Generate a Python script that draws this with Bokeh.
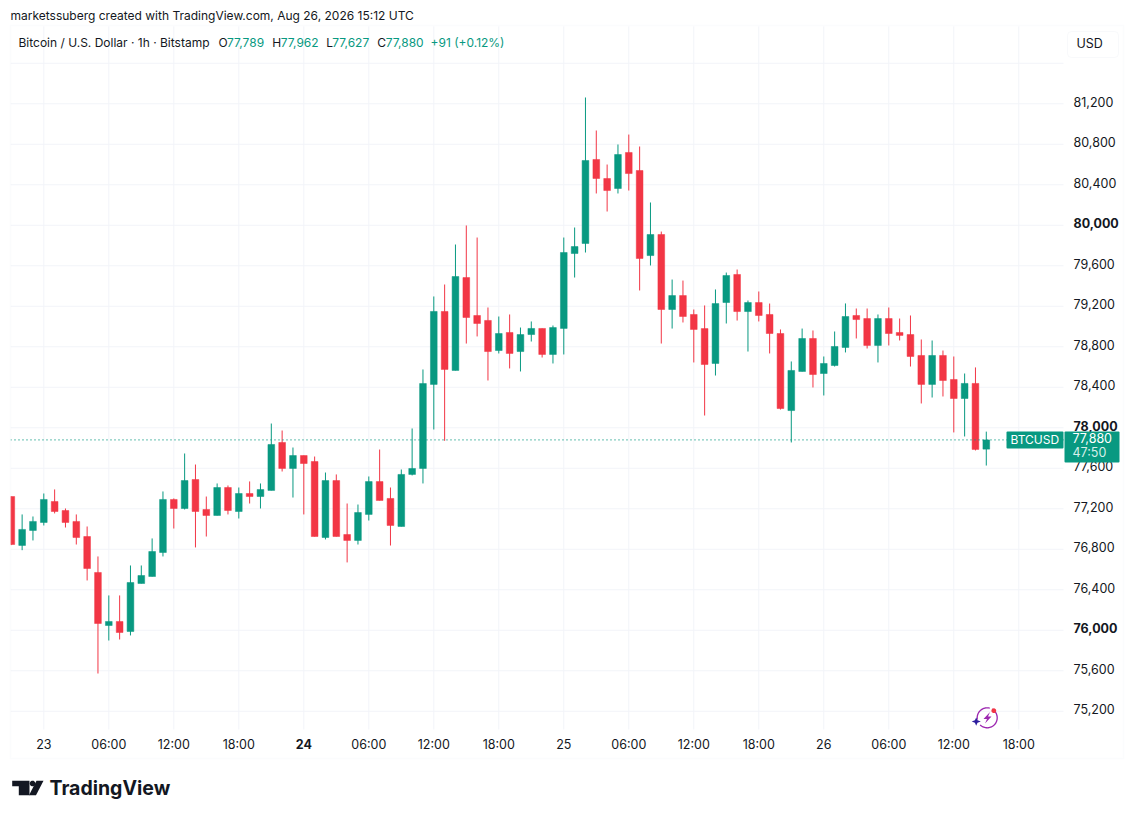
import numpy as np
from bokeh.plotting import figure
from bokeh.models import (BoxAnnotation, ColumnDataSource, FixedTicker, Label, LinearAxis, PolyAnnotation, Range1d)
from bokeh.embed import file_html
from bokeh.resources import INLINE

GREEN = "#089981"
RED = "#F23645"
GRID = "#f2f4f9"
INK = "#131722"
FONT = "Inter"

hours = list(range(-3, 88))
opens = [77321,76838,76986,77065,77272,77183,77075,76926,76571,76047,76087,75988,76462,76531,76768,77292,77203,77489,
         77193,77134,77410,77173,77351,77321,77381,77855,77598,77726,77667,76916,77479,76946,76887,77144,77469,77302,
         77025,77539,77598,78428,79149,78566,79484,79109,79060,78763,78941,78753,78921,78981,78724,78981,79721,79820,
         80650,80462,80363,80719,80541,79701,79909,79168,79306,79119,78980,78635,79237,79514,79148,79237,79119,78931,
         78170,78556,78882,78536,78615,78793,79109,79079,78813,79079,78941,78921,78714,78428,78714,78477,78289,78438,77789]
highs = [77321,77144,77124,77351,77391,77203,77144,77025,76729,76344,76344,76640,76640,76907,77371,77302,77746,77637,
         77321,77450,77430,77410,77470,77450,78042,77973,77805,77726,77716,77558,77539,77252,77242,77519,77785,77410,
         77588,77993,78576,79297,79415,79810,79998,79879,79188,79099,79119,78990,79050,78981,79010,79879,79978,81262,
         80936,80600,80798,80896,80778,80225,79938,79464,79454,79168,79208,79366,79533,79563,79257,79346,79227,78971,
         78655,78980,78961,78704,78951,79228,79178,79178,79119,79188,79079,79109,78872,78862,78763,78704,78536,78596,77962]
lows = [76841,76791,76887,77035,77154,77015,76847,76492,75573,75899,75909,75949,76462,76531,76729,77005,77193,76818,
        76926,77134,77144,77104,77252,77203,77381,77568,77311,77144,76926,76897,76926,76670,76847,77084,77282,76837,
        77025,77529,77450,77983,77871,78566,78832,78902,78467,78734,78586,78556,78852,78694,78635,78724,79484,79731,
        80314,80136,80314,80343,79356,79603,78832,78980,79040,78645,78121,78516,79030,79059,78753,79050,78734,78180,
        77855,78556,78398,78319,78605,78744,78882,78783,78645,78813,78862,78605,78240,78299,78309,77954,77914,77776,77627]
closes = [76847,76996,77075,77292,77173,77065,76916,76610,76067,76087,75978,76472,76541,76778,77292,77203,77479,77173,
          77134,77410,77183,77351,77321,77390,77835,77598,77726,77647,76926,77479,76926,76887,77163,77469,77282,77035,
          77539,77598,78437,79149,78576,79494,79089,79030,78753,78931,78734,78921,78981,78724,78990,79731,79790,80640,
          80462,80343,80699,80511,79672,79909,79168,79306,79099,78971,78625,79227,79504,79148,79237,79109,78931,78190,
          78566,78882,78526,78635,78803,79099,79069,78813,79079,78931,78912,78704,78428,78714,78467,78289,78438,77786,77880]
last_price = 77880

price_ticks = [75200,75600,76000,76400,76800,77200,77600,78000,78400,78800,79200,79600,80000,80400,80800,81200]
bold_price_ticks = [76000,78000,80000]
grid_price_ticks = price_ticks + [81600]
time_ticks = list(range(0, 91, 6))
time_labels = ["23","06:00","12:00","18:00","24","06:00","12:00","18:00","25","06:00","12:00","18:00","26","06:00","12:00","18:00"]
bold_time_label = "24"

# pane limits in data units
pane_left, pane_right = -3.074, 94.13
pane_top, pane_bottom = 81964, 75020

W, H = 1125, 802
p = figure(width=W, height=H, output_backend="svg", toolbar_location=None,
           x_range=Range1d(-3.997, 99.85), y_range=Range1d(74299, 82220),
           min_border=0, x_axis_location=None, y_axis_location=None, outline_line_color=None,
           background_fill_color="white", border_fill_color="white")
p.grid.visible = False
# the price labels sit slightly above their grid lines, as in the original
label_nudge = 18
p.extra_y_ranges = {"labels": Range1d(74299 - label_nudge, 82220 - label_nudge)}

yaxis = LinearAxis(ticker=FixedTicker(ticks=price_ticks), fixed_location=pane_right, y_range_name="labels",
                   major_label_overrides={t: ("" if t in bold_price_ticks else f"{t:,}") for t in price_ticks})
xaxis = LinearAxis(ticker=FixedTicker(ticks=time_ticks), fixed_location=pane_bottom,
                   major_label_overrides={t: ("" if l == bold_time_label else l) for t, l in zip(time_ticks, time_labels)})
p.add_layout(yaxis, "right")
p.add_layout(xaxis, "below")
for ax in (yaxis, xaxis):
    ax.axis_line_color = None
    ax.major_tick_line_color = None
    ax.minor_tick_line_color = None
    ax.major_tick_in = 0
    ax.major_tick_out = 0
    ax.minor_tick_in = 0
    ax.minor_tick_out = 0
    ax.major_label_text_font = FONT
    ax.major_label_text_font_size = "12.5px"
    ax.major_label_text_color = INK
yaxis.major_label_standoff = 10
xaxis.major_label_standoff = 8

# grid lines limited to the pane
p.segment(x0=time_ticks, x1=time_ticks, y0=[pane_bottom]*len(time_ticks), y1=[pane_top]*len(time_ticks),
          line_color=GRID, line_width=1)
p.segment(x0=[pane_left]*len(grid_price_ticks), x1=[pane_right]*len(grid_price_ticks),
          y0=grid_price_ticks, y1=grid_price_ticks, line_color=GRID, line_width=1)

colors = [GREEN if c >= o else RED for o, c in zip(opens, closes)]
src = ColumnDataSource(dict(x=hours, open=opens, high=highs, low=lows, close=closes,
                            top=[max(o, c) for o, c in zip(opens, closes)],
                            bottom=[min(o, c) for o, c in zip(opens, closes)], color=colors))
p.segment("x", "high", "x", "low", source=src, line_color="color", line_width=1)
p.vbar("x", 0.62, "bottom", "top", source=src, fill_color="color", line_color="color", line_width=0.5)

# last-price line
p.segment(x0=[pane_left], x1=[pane_right], y0=[last_price], y1=[last_price], line_color=GREEN, line_dash="1 3", line_width=1.3)

def box(l, r, t, b, **kw):
    p.add_layout(BoxAnnotation(left=l, right=r, top=t, bottom=b, left_units="canvas", right_units="canvas",
                               top_units="canvas", bottom_units="canvas", **kw))

def label(text, x, y, size="12.5px", color=INK, style="normal", align="left", level="annotation",
          x_units="canvas", y_units="canvas", **kw):
    lab = Label(text=text, x=x, y=y, x_units=x_units, y_units=y_units, text_font=FONT, text_font_size=size,
                text_color=color, text_font_style=style, text_align=align, text_baseline="middle", level=level, **kw)
    p.add_layout(lab)
    return lab

# mask left of the pane (cuts the first candle), then the outer border
box(0, 10, 0, 802, fill_color="white", fill_alpha=1, line_alpha=0)
box(10, 1123, 25, 758, fill_alpha=0, line_color=GRID, line_width=1.5)

# bold ticks
for t in bold_price_ticks:
    label(f"{t:,}", 1073, t, style="bold", y_units="data", y_range_name="labels")
label(bold_time_label, time_ticks[time_labels.index(bold_time_label)], 743, style="bold", align="center", x_units="data")

# header
label("marketssuberg created with TradingView.com, Aug 26, 2026 15:12 UTC", 10, 14.5, size="12px")
label("Bitcoin / U.S. Dollar · 1h · Bitstamp", 18, 41.5, size="12px")
ohlc = [("O", f"{opens[-1]:,}", 218), ("H", f"{highs[-1]:,}", 271.7), ("L", f"{lows[-1]:,}", 325.7), ("C", f"{closes[-1]:,}", 376.7)]
for k, v, x in ohlc:
    label(k, x, 41.5, size="12px")
    label(v, x + (6 if k == "L" else 8.5), 41.5, size="12px", color=GREEN)
label("+91 (+0.12%)", 430, 41.5, size="12px", color=GREEN)

# USD button
box(1067, 1118, 31, 57, fill_color="white", fill_alpha=1, line_color="#e9ecf3", line_width=1, border_radius=4)
label("USD", 1076, 42.5, size="12.5px")

# last-price tags
box(1006, 1063, 431, 448, fill_color=GREEN, fill_alpha=1, line_alpha=0, level="overlay", border_radius=1)
box(1064, 1119, 431, 462, fill_color=GREEN, fill_alpha=1, line_alpha=0, level="overlay", border_radius=1)
label("BTCUSD", 1010, 438.8, size="12px", color="white", level="overlay")
label(f"{last_price:,}", 1072, 437.5, color="white", level="overlay")
label("47:50", 1072, 451.5, color="#d5efea", level="overlay")

def poly(xs, ys, color):
    p.add_layout(PolyAnnotation(xs=list(xs), ys=list(ys), xs_units="canvas", ys_units="canvas",
                                fill_color=color, fill_alpha=1, line_alpha=0))

def disc(x0, y0, r, color):
    a = np.linspace(0, 2*np.pi, 32)[:-1]
    poly(x0 + r*np.cos(a), y0 + r*np.sin(a), color)

def arc(x0, y0, r, w, a0, a1, color):
    a = np.radians(np.linspace(a0, a1, 40))
    xs = list(x0 + (r+w/2)*np.cos(a)) + list(x0 + (r-w/2)*np.cos(a[::-1]))
    ys = list(y0 + (r+w/2)*np.sin(a)) + list(y0 + (r-w/2)*np.sin(a[::-1]))
    poly(xs, ys, color)

# TradingView logo
poly([11.7, 29, 29, 18.3, 18.3, 11.7], [780.3, 780.3, 794.7, 794.7, 785.8, 785.8], "#131722")
disc(32, 783, 2.8, "#131722")
poly([36, 43, 35.5, 28.5], [780.3, 780.3, 794.7, 794.7], "#131722")
label("TradingView", 49, 787, size="19.5px", style="bold", color="#131722")

# assistant icon
arc(986.7, 717.3, 10, 1.3, -60, 135, "#9c27b0")
arc(986.7, 717.3, 10, 1.3, 170, 285, "#9c27b0")
poly([989.5, 983, 986.5, 984.5, 991, 987.5], [711.5, 718.5, 718.5, 723, 716, 716], "#9c27b0")
disc(993.3, 710.2, 2.4, RED)
poly([975.7, 977, 980.3, 977, 975.7, 974.4, 971.2, 974.4], [717, 719.8, 721, 722.3, 725.3, 722.3, 721, 719.8], "#2d1e9e")

open("out.html", "w").write(file_html(p, INLINE))
